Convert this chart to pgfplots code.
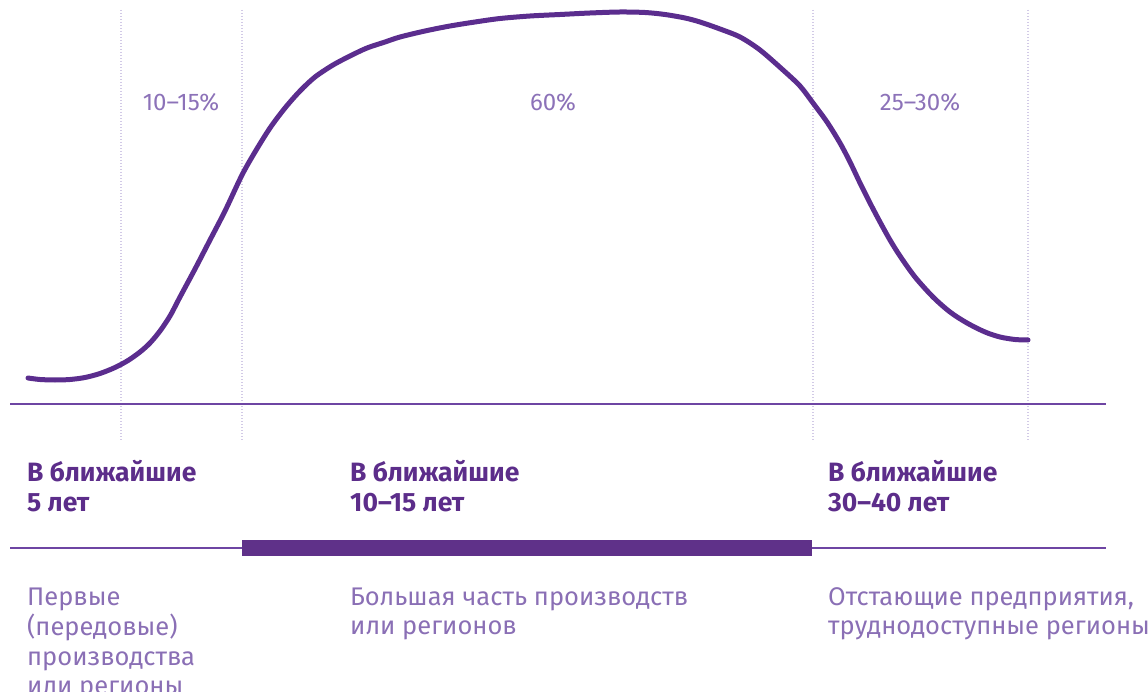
\documentclass[border=0pt]{standalone}
\usepackage{pgfplots}
\pgfplotsset{compat=1.18}
\usepackage{fontspec}
\setmainfont{Fira Sans}
\definecolor{curve}{HTML}{5B2D8E}
\definecolor{head}{HTML}{5C2D8A}
\definecolor{bar}{HTML}{5F3189}
\definecolor{thin}{HTML}{6E45A3}
\definecolor{pct}{HTML}{8C72B8}
\definecolor{desc}{HTML}{8A6FB5}
\definecolor{dots}{HTML}{D2CAE6}
\begin{document}
\begin{tikzpicture}
\begin{axis}[hide axis, scale only axis, width=1148pt, height=692pt,
  xmin=0, xmax=1148, ymin=0, ymax=692, y dir=reverse, clip=false]
% dotted verticals
\addplot[color=dots, line width=1.2pt, dash pattern=on 1pt off 2pt] coordinates {(121,10) (121,440)};
\addplot[color=dots, line width=1.2pt, dash pattern=on 1pt off 2pt] coordinates {(242,10) (242,440)};
\addplot[color=dots, line width=1.2pt, dash pattern=on 1pt off 2pt] coordinates {(813,10) (813,440)};
\addplot[color=dots, line width=1.2pt, dash pattern=on 1pt off 2pt] coordinates {(1028,10) (1028,440)};
% baseline
\addplot[color=thin, line width=1.5pt] coordinates {(10,404) (1106,404)};
% curve
\addplot[color=curve, line width=5pt, line cap=round, smooth, tension=0.5] coordinates {
(28,378) (40,379.5) (55,380) (70,379.5) (85,377.5) (100,373.5) (115,367.5) (128,360.5)
(140,352) (150,343) (160,331) (170,316) (180,297) (195,269) (210,240) (225,211)
(242,175) (255,152) (270,128) (285,108) (300,91) (315,77) (333,65) (350,56)
(367,48) (385,42) (400,37) (425,31) (450,26) (475,22) (500,18.5) (530,16)
(560,14.5) (590,13) (620,12) (645,12.5) (665,14.5) (685,18) (700,22) (720,29)
(740,37) (760,50) (783,70) (800,86) (813,103) (827,122) (840,143) (850,162)
(860,183) (870,203) (880,222) (890,240) (900,256) (915,277) (933,297) (950,312)
(967,323) (985,332) (1000,337) (1015,339.5) (1028,340)};
% timeline
\addplot[color=thin, line width=2.5pt] coordinates {(10,548) (1106,548)};
\addplot[color=bar, line width=16pt] coordinates {(242,548) (812,548)};
% percentages
\node[anchor=base, color=pct, font=\fontsize{24}{28}\selectfont] at (axis cs:181,111) {10–15\%};
\node[anchor=base, color=pct, font=\fontsize{24}{28}\selectfont] at (axis cs:553,111) {60\%};
\node[anchor=base, color=pct, font=\fontsize{24}{28}\selectfont] at (axis cs:920,111) {25–30\%};
% headings
\node[anchor=base west, inner sep=0pt, color=head, font=\fontsize{26.5}{30}\selectfont\bfseries] at (axis cs:27,481) {В ближайшие};
\node[anchor=base west, inner sep=0pt, color=head, font=\fontsize{26.5}{30}\selectfont\bfseries] at (axis cs:27,511) {5 лет};
\node[anchor=base west, inner sep=0pt, color=head, font=\fontsize{26.5}{30}\selectfont\bfseries] at (axis cs:350,481) {В ближайшие};
\node[anchor=base west, inner sep=0pt, color=head, font=\fontsize{26.5}{30}\selectfont\bfseries] at (axis cs:350,511) {10–15 лет};
\node[anchor=base west, inner sep=0pt, color=head, font=\fontsize{26.5}{30}\selectfont\bfseries] at (axis cs:828,481) {В ближайшие};
\node[anchor=base west, inner sep=0pt, color=head, font=\fontsize{26.5}{30}\selectfont\bfseries] at (axis cs:828,511) {30–40 лет};
% descriptions
\node[anchor=base west, inner sep=0pt, color=desc, font=\fontsize{25.5}{30}\selectfont] at (axis cs:27,605) {Первые};
\node[anchor=base west, inner sep=0pt, color=desc, font=\fontsize{25.5}{30}\selectfont] at (axis cs:27,635) {(передовые)};
\node[anchor=base west, inner sep=0pt, color=desc, font=\fontsize{25.5}{30}\selectfont] at (axis cs:27,665) {производства};
\node[anchor=base west, inner sep=0pt, color=desc, font=\fontsize{25.5}{30}\selectfont] at (axis cs:27,694) {или регионы};
\node[anchor=base west, inner sep=0pt, color=desc, font=\fontsize{25.5}{30}\selectfont] at (axis cs:350,605) {Большая часть производств};
\node[anchor=base west, inner sep=0pt, color=desc, font=\fontsize{25.5}{30}\selectfont] at (axis cs:350,634) {или регионов};
\node[anchor=base west, inner sep=0pt, color=desc, font=\fontsize{25.5}{30}\selectfont] at (axis cs:828,605) {Отстающие предприятия,};
\node[anchor=base west, inner sep=0pt, color=desc, font=\fontsize{25.5}{30}\selectfont] at (axis cs:828,634) {труднодоступные регионы};
\end{axis}
\pgfresetboundingbox
\useasboundingbox (current axis.south west) rectangle (current axis.north east);
\end{tikzpicture}
\end{document}
